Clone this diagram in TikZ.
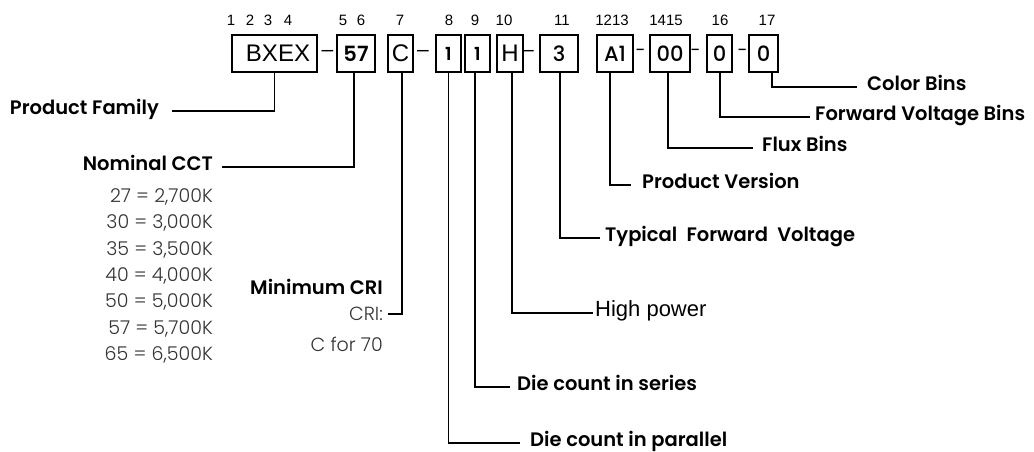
\documentclass[tikz,border=0pt]{standalone}
\usepackage{fontspec}
\setmainfont{Poppins}
\newfontfamily\arialfont{Liberation Sans}
\newfontfamily\semibfont{Poppins SemiBold}
\newfontfamily\mediumfont{Poppins Medium}
\newfontfamily\lightfont{Poppins Light}
\usetikzlibrary{positioning}

% fonts of the box contents
\newcommand\boxarial{\arialfont\fontsize{24}{28}\selectfont}
\newcommand\boxbold{\semibfont\fontsize{21}{25}\selectfont}
\newcommand\boxone{\semibfont\fontsize{18}{22}\selectfont}
\newcommand\boxplain{\mediumfont\fontsize{21}{24}\selectfont}

\begin{document}
\begin{tikzpicture}[x=1pt, y=-1pt,
		  % Define the style of the part number boxes
		  codebox/.style={draw, line width=1.1pt, inner sep=0pt, minimum height=37pt},
		  % Define the style of the separators between boxes
		  sep/.style={inner sep=0pt},
		  % Define the style of the position numbers
		  posnum/.style={inner sep=0pt, font=\arialfont\fontsize{15}{17}\selectfont},
		  % Define the style of the leader lines
		  leader/.style={line width=1.3pt},
		  % Define the style of the field names
		  fieldlabel/.style={inner sep=0pt, text height=0.7em, text depth=0pt, font=\semibfont\fontsize{19.5}{24}\selectfont},
		  % Define the style of the value lines
		  sublabel/.style={inner sep=0pt, anchor=east, text=black!80, font=\lightfont\fontsize{19}{22}\selectfont}
		  ]

		  \useasboundingbox (0,0) rectangle (1034,452);

		  % Part number boxes
		  \foreach \n/\cx/\w/\f/\t in {bxex/274.5/85/\boxarial/\hspace*{7pt}BXEX, cct/356/38/\boxbold/57,
		      cri/400.5/25/\boxarial/C, par/448.5/25/\boxone/1, ser/477.5/25/\boxone/1,
		      pow/510/26/\boxarial/H, vf/559/38/\boxplain/3, ver/615/36/\boxplain/A1,
		      flux/670/40/\boxplain/00, vbin/719.5/25/\boxplain/0, cbin/763.5/29/\boxplain/0} {
		    \node[codebox, minimum width=\w, font=\f] (\n) at (\cx, 53.5) {\t};
		  }

		  % Separators
		  \foreach \n/\x in {d1/327.5, d2/423, d3/528} {
		    \node[sep, font=\arialfont\fontsize{21}{24}\selectfont] (\n) at (\x, 53) {\textendash};
		  }
		  \foreach \n/\x in {d4/640.5, d5/695.5, d6/742.5} {
		    \node[sep, font=\fontsize{18}{22}\selectfont] (\n) at (\x, 53) {-};
		  }

		  % Position numbers
		  \foreach \t/\x in {1/231, 2/250, 3/268, 4/288, 5/343, 6/361, 7/400, 8/449, 9/475,
		      10/504, 11/562, 1213/612, 1415/666, 16/720, 17/767} {
		    \node[posnum] (pos\t) at (\x, 20) {\t};
		  }

		  % Field names on the left
		  \node[fieldlabel, anchor=east] (lblfamily) at (159, 111) {Product Family};
		  \node[fieldlabel, anchor=east] (lblcct) at (213, 167) {Nominal CCT};
		  \foreach \k/\t in {0/{27 = 2,700K}, 1/{30 = 3,000K}, 2/{35 = 3,500K}, 3/{40 = 4,000K},
		      4/{50 = 5,000K}, 5/{57 = 5,700K}, 6/{65 = 6,500K}} {
		    \node[sublabel] (cctval\k) at (213, {197+26.3*\k}) {\t};
		  }
		  \node[fieldlabel, anchor=east] (lblcri) at (383, 291) {Minimum CRI};
		  \node[sublabel] (lblcrisub) at (383, 314) {CRI:};
		  \node[sublabel] (lblcrival) at (383, 344) {C for 70};

		  % Field names on the right
		  \node[fieldlabel, anchor=west] (lblcolor) at (867, 87) {Color Bins};
		  \node[fieldlabel, anchor=west] (lblvbin) at (815, 117) {Forward Voltage Bins};
		  \node[fieldlabel, anchor=west] (lblflux) at (762, 148) {Flux Bins};
		  \node[fieldlabel, anchor=west] (lblver) at (642, 185) {Product Version};
		  \node[fieldlabel, anchor=west] (lbltyp) at (605, 238) {Typical~ Forward~ Voltage};
		  \node[inner sep=0pt, text height=0.72em, text depth=0pt, anchor=west,
		      font=\arialfont\fontsize{22}{26}\selectfont] (lblpow) at (595, 313) {High power};
		  \node[fieldlabel, anchor=west] (lblser) at (517, 387) {Die count in series};
		  \node[fieldlabel, anchor=west] (lblpar) at (530, 443) {Die count in parallel};

		  % Connect the boxes to their names
		  \foreach \b/\dx/\l/\g in {bxex/0/lblfamily.east/13, cct/-2/lblcct.east/9,
		      cri/1.5/lblcrisub.east/5, par/0/lblpar.west/10, ser/-2.5/lblser.west/7,
		      pow/2/lblpow.west/2, vf/1/lbltyp.west/5, ver/-5/lblver.west/11,
		      flux/-2/lblflux.west/9, vbin/0.5/lblvbin.west/5, cbin/8.5/lblcolor.west/10} {
		    \draw[leader, shorten >=\g pt] ([xshift=\dx pt]\b.south) |- (\l);
		  }
\end{tikzpicture}
\end{document}
